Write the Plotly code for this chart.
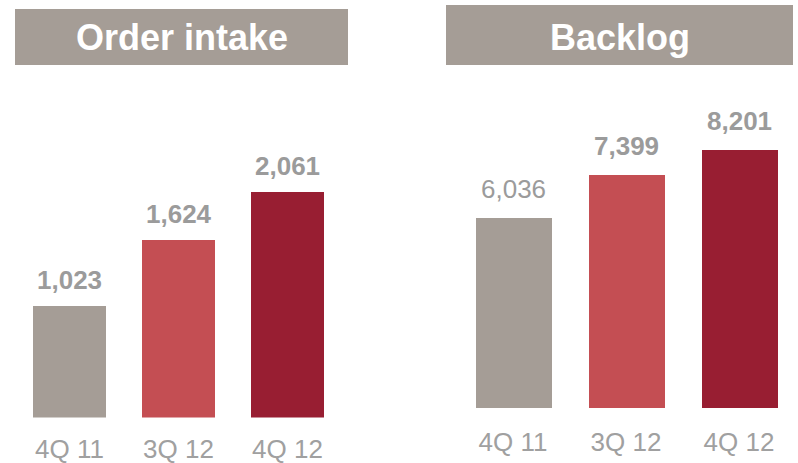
import plotly.graph_objects as go

categories = ["4Q 11", "3Q 12", "4Q 12"]
order_intake = [1023, 1624, 2061]
backlog = [6036, 7399, 8201]
order_labels = ["1,023", "1,624", "2,061"]
backlog_labels = ["6,036", "7,399", "8,201"]
bar_colors = ["#A59D96", "#C44E53", "#981E32"]

W, H = 798, 463
FONT = "Arial, Liberation Sans, sans-serif"
TXT = "#9B9B9B"

def py(px):
    return (H - px) / H

fig = go.Figure()
fig.add_trace(go.Bar(x=categories, y=order_intake, marker_color=bar_colors,
                     marker_line_width=0, width=0.67, xaxis="x", yaxis="y",
                     hoverinfo="skip"))
fig.add_trace(go.Bar(x=categories, y=backlog, marker_color=bar_colors,
                     marker_line_width=0, width=0.6726, xaxis="x2", yaxis="y2",
                     hoverinfo="skip"))

ann = []
for c, v, t in zip(categories, order_intake, order_labels):
    ann.append(dict(x=c, y=v, xref="x", yref="y", text=f"<b>{t}</b>", showarrow=False,
                    yanchor="middle", yshift=26, font=dict(family=FONT, size=26, color=TXT)))
for i, (c, v, t) in enumerate(zip(categories, backlog, backlog_labels)):
    txt = t if i == 0 else f"<b>{t}</b>"
    ann.append(dict(x=c, y=v, xref="x2", yref="y2", text=txt, showarrow=False,
                    yanchor="middle", yshift=29, font=dict(family=FONT, size=26, color=TXT)))

ann.append(dict(x=181.5 / W, y=py(37), xref="paper", yref="paper", text="<b>Order intake</b>",
                showarrow=False, xanchor="center", yanchor="middle",
                font=dict(family=FONT, size=36, color="white")))
ann.append(dict(x=619.5 / W, y=py(37), xref="paper", yref="paper", text="<b>Backlog</b>",
                showarrow=False, xanchor="center", yanchor="middle",
                font=dict(family=FONT, size=36, color="white")))

shapes = [
    dict(type="rect", xref="paper", yref="paper", x0=15 / W, x1=348 / W, y0=py(65), y1=py(9),
         fillcolor="#A59D96", line_width=0, layer="below"),
    dict(type="rect", xref="paper", yref="paper", x0=446 / W, x1=793 / W, y0=py(65), y1=py(5),
         fillcolor="#A59D96", line_width=0, layer="below"),
]

tickfont = dict(family=FONT, size=26, color="#A0A0A0")
fig.update_layout(
    width=W, height=H, margin=dict(l=0, r=0, t=0, b=0),
    paper_bgcolor="white", plot_bgcolor="white", showlegend=False,
    bargap=0, annotations=ann, shapes=shapes,
    xaxis=dict(domain=[15 / W, 342 / W], range=[-0.5, 2.5], showgrid=False, zeroline=False,
               showline=False, ticks="", tickfont=tickfont, ticklabelstandoff=13,
               automargin=False, fixedrange=True),
    yaxis=dict(domain=[py(417.5), py(65)], range=[0, 352.5 / 0.1092], visible=False,
               automargin=False, fixedrange=True),
    xaxis2=dict(domain=[456.5 / W, 795.5 / W], range=[-0.5, 2.5], showgrid=False, zeroline=False,
                showline=False, ticks="", tickfont=tickfont, ticklabelstandoff=16,
                automargin=False, anchor="y2", fixedrange=True),
    yaxis2=dict(domain=[py(408), py(65)], range=[0, 343 / 0.0315], visible=False,
                automargin=False, anchor="x2", fixedrange=True),
)

fig.write_html("out.html", config={"displayModeBar": False},
               post_script="document.body.style.margin='0px';")
